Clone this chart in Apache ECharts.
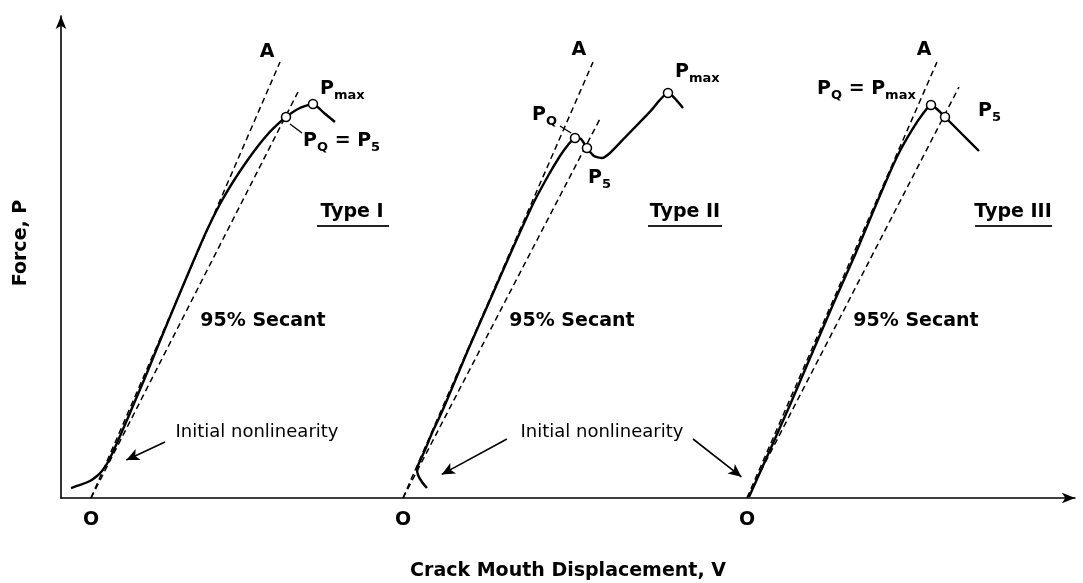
<!DOCTYPE html>
<html>
<head>
<meta charset="utf-8">
<script src="https://cdn.jsdelivr.net/npm/echarts@6/dist/echarts.min.js"></script>
<style>
  html, body { margin: 0; padding: 0; background: #fff; }
  #main { width: 1083px; height: 583px; }
</style>
</head>
<body>
<div id="main"></div>
<script>
// load curves (displacement, force), arbitrary units 0..100
var curveI = [[0.99,2.07],[1.87,2.70],[2.86,3.53],[3.55,4.56],[4.04,5.60],[4.64,7.47],[5.52,11.41],
    [6.51,16.18],[7.30,20.12],[8.19,24.48],[9.76,32.57],[11.44,41.08],[13.02,48.96],[14.40,55.60],
    [15.68,61.00],[16.96,65.56],[18.34,69.92],[19.43,73.03],[20.41,75.52],[21.30,77.39],[22.19,79.05],
    [23.37,80.71],[24.85,81.74],[25.94,79.88],[27.02,78.01]];
var curveII = [[36.09,2.07],[35.60,3.32],[35.21,4.77],[35.11,6.02],[35.40,7.68],[35.90,9.96],[36.59,13.49],
    [37.38,17.01],[38.07,20.33],[40.14,30.71],[42.31,41.08],[44.48,51.45],[46.55,61.00],[48.03,66.80],
    [49.21,70.95],[50.00,73.24],[50.69,74.69],[51.28,74.48],[51.87,72.61],[52.56,70.95],[53.35,70.54],
    [54.14,71.58],[55.62,74.79],[58.09,80.17],[59.86,84.02],[61.34,80.91]];
var curveIII = [[67.85,0.21],[69.92,9.96],[71.89,19.29],[73.87,29.05],[76.33,41.08],[78.30,50.41],
    [80.28,60.37],[81.76,67.63],[82.74,71.99],[83.93,76.35],[84.91,79.46],[85.80,81.54],[86.49,80.50],
    [87.18,79.05],[88.85,75.52],[90.53,71.99]];

// tangent (OA) and 95% secant lines, from each origin O
var tangentI = [[2.96,0],[21.60,90.46]];
var secantI = [[2.96,0],[23.37,84.23]];
var tangentII = [[33.73,0],[52.47,90.46]];
var secantII = [[33.73,0],[53.25,79.05]];
var tangentIII = [[67.65,0],[86.39,90.46]];
var secantIII = [[67.65,0],[88.56,85.27]];

// open circles: P5 / PQ / Pmax
var markedPoints = [[22.19,79.05],[24.85,81.74],[50.69,74.69],[51.87,72.61],[59.86,84.02],[85.80,81.54],[87.18,79.05]];

// origin tick labels
var originTicks = [2.96, 33.73, 67.65];

// arrows and short leader lines [from, to]
var arrows = [[[10.26,11.62],[6.45,7.88]], [[43.98,12.24],[37.55,4.90]], [[62.33,12.24],[67.10,4.40]]];
var leaders = [[[22.58,77.59],[23.77,75.73]], [[49.21,77.18],[50.30,75.73]]];
var underlines = [[[25.25,56.43],[32.35,56.43]], [[57.89,56.43],[65.19,56.43]], [[90.14,56.43],[97.73,56.43]]];

// annotation texts
var notes = [
    { text: 'A', at: [20.32, 92.53], align: 'center' },
    { text: 'A', at: [51.08, 92.95], align: 'center' },
    { text: 'A', at: [85.11, 92.95], align: 'center' },
    { text: 'P{s|max}', at: [25.54, 84.85], align: 'left' },
    { text: 'P{s|Q} = P{s|5}', at: [23.87, 74.07], align: 'left' },
    { text: 'P{s|Q}', at: [46.45, 79.46], align: 'left' },
    { text: 'P{s|5}', at: [51.97, 66.39], align: 'left' },
    { text: 'P{s|max}', at: [60.55, 88.38], align: 'left' },
    { text: 'P{s|Q} = P{s|max}', at: [74.56, 84.85], align: 'left' },
    { text: 'P{s|5}', at: [90.43, 80.29], align: 'left' },
    { text: 'Type I', at: [28.70, 59.34], align: 'center' },
    { text: 'Type II', at: [61.54, 59.34], align: 'center' },
    { text: 'Type III', at: [93.89, 59.34], align: 'center' },
    { text: '95% Secant', at: [19.92, 36.72], align: 'center' },
    { text: '95% Secant', at: [50.39, 36.72], align: 'center' },
    { text: '95% Secant', at: [84.32, 36.72], align: 'center' },
    { text: '{n|Initial nonlinearity}', at: [19.33, 13.69], align: 'center' },
    { text: '{n|Initial nonlinearity}', at: [53.35, 13.69], align: 'center' }
];

var FONT = 'DejaVu Sans';
var myChart = echarts.init(document.getElementById('main'));

function solid(data) {
    return { type: 'line', data: data, symbol: 'none', silent: true, z: 3, smooth: 0.2,
        lineStyle: { color: '#000', width: 2.4 } };
}
function dashed(data) {
    return { type: 'line', data: data, symbol: 'none', silent: true, z: 2,
        lineStyle: { color: '#000', width: 1.5, type: [6, 4] } };
}
function segs(list) {
    return list.map(function (s) { return [{ coord: s[0] }, { coord: s[1] }]; });
}

var option = {
    animation: false,
    backgroundColor: '#fff',
    grid: { left: 61, right: 8, top: 16, bottom: 85, containLabel: false, outerBoundsMode: 'none' },
    xAxis: {
        type: 'value', min: 0, max: 100,
        name: 'Crack Mouth Displacement, V',
        nameLocation: 'middle', nameGap: 64,
        nameTextStyle: { fontFamily: FONT, fontSize: 19, fontWeight: 'bold', color: '#000' },
        axisLine: { lineStyle: { color: '#000', width: 1.6 }, symbol: ['none', 'arrow'], symbolSize: [8, 13] },
        axisTick: { show: false },
        splitLine: { show: false },
        axisLabel: {
            customValues: originTicks, margin: 13,
            formatter: function () { return 'O'; },
            fontFamily: FONT, fontSize: 19, fontWeight: 'bold', color: '#000'
        }
    },
    yAxis: {
        type: 'value', min: 0, max: 100,
        name: 'Force, P',
        nameLocation: 'middle', nameGap: 30, nameRotate: 90,
        nameTextStyle: { fontFamily: FONT, fontSize: 19, fontWeight: 'bold', color: '#000', padding: [0, 0, 0, 28] },
        axisLine: { lineStyle: { color: '#000', width: 1.6 }, symbol: ['none', 'arrow'], symbolSize: [8, 13] },
        axisTick: { show: false },
        splitLine: { show: false },
        axisLabel: { show: false }
    },
    series: [
        dashed(tangentI), dashed(secantI),
        dashed(tangentII), dashed(secantII),
        dashed(tangentIII), dashed(secantIII),
        solid(curveI), solid(curveII), solid(curveIII),
        {
            type: 'line', data: [], silent: true,
            markLine: {
                silent: true, symbol: ['none', 'arrow'], symbolSize: [9, 13],
                label: { show: false },
                lineStyle: { color: '#000', width: 1.6, type: 'solid' },
                data: segs(arrows)
            }
        },
        {
            type: 'line', data: [], silent: true,
            markLine: {
                silent: true, symbol: ['none', 'none'],
                label: { show: false },
                lineStyle: { color: '#000', width: 1.4, type: 'solid' },
                data: segs(leaders)
            }
        },
        {
            type: 'line', data: [], silent: true,
            markLine: {
                silent: true, symbol: ['none', 'none'],
                label: { show: false },
                lineStyle: { color: '#222', width: 2, type: 'solid' },
                data: segs(underlines)
            }
        },
        {
            type: 'scatter', data: markedPoints, symbol: 'circle', symbolSize: 9, z: 5, silent: true,
            itemStyle: { color: '#fff', borderColor: '#000', borderWidth: 1.5, opacity: 1 }
        },
        {
            type: 'scatter', symbolSize: 0, z: 6, silent: true,
            itemStyle: { opacity: 1 },
            data: notes.map(function (n) {
                return { value: n.at, label: { formatter: n.text, align: n.align } };
            }),
            label: {
                show: true, position: 'inside', color: '#000',
                fontFamily: FONT, fontSize: 19, fontWeight: 'bold',
                rich: {
                    s: { fontFamily: FONT, fontSize: 13, fontWeight: 'bold', color: '#000', lineHeight: 13, padding: [14, 0, 0, 0] },
                    n: { fontFamily: FONT, fontSize: 18, fontWeight: 'normal', color: '#000' }
                }
            }
        }
    ]
};

myChart.setOption(option);
</script>
</body>
</html>
